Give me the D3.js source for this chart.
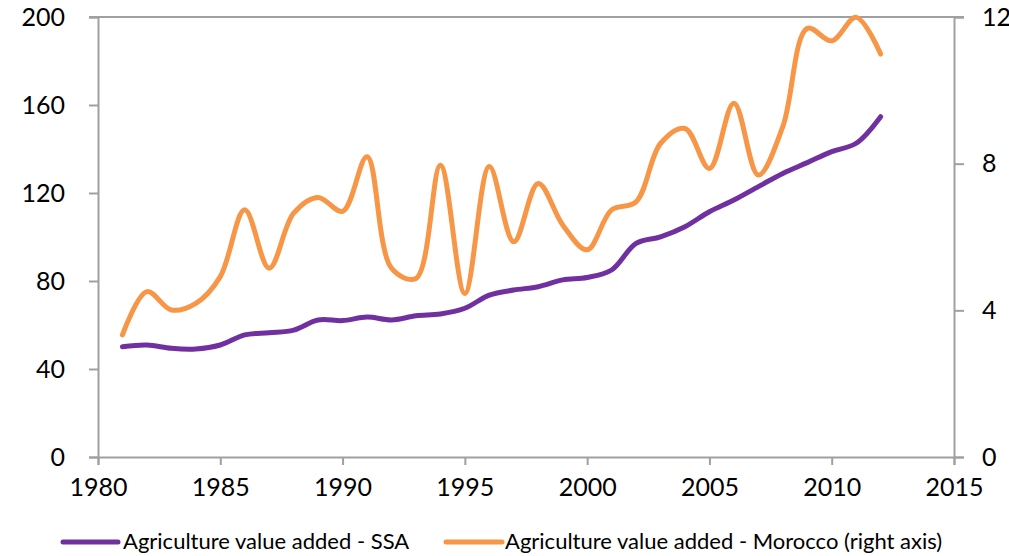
<!DOCTYPE html>
<html>
<head>
<meta charset="utf-8">
<script src="https://cdn.jsdelivr.net/npm/d3@7"></script>
<style>
html, body { margin: 0; padding: 0; background: #fff; }
svg { display: block; }
text { font-family: Lato, "Open Sans", sans-serif; fill: #000; }
</style>
</head>
<body>
<svg id="chart" width="1009" height="556"></svg>
<script>
// ---- Data ----
const years = [1981,1982,1983,1984,1985,1986,1987,1988,1989,1990,1991,1992,1993,1994,1995,1996,1997,1998,1999,2000,2001,2002,2003,2004,2005,2006,2007,2008,2009,2010,2011,2012];
const ssaValues = [50.1,50.9,49.4,49.1,50.9,55.5,56.5,57.7,62.3,62.0,63.6,62.3,64.2,65.0,67.6,73.6,75.9,77.4,80.5,81.6,85.0,97.1,100.1,104.7,111.5,116.8,122.9,128.9,133.8,138.8,142.6,154.7];
const moroccoValues = [3.33,4.51,4.01,4.19,4.92,6.74,5.15,6.65,7.08,6.70,8.19,5.15,4.87,7.96,4.46,7.92,5.87,7.46,6.33,5.65,6.74,6.96,8.55,8.96,7.87,9.65,7.69,9.01,11.69,11.35,11.99,10.99];
const xTicks = [1980,1985,1990,1995,2000,2005,2010,2015];
const leftTicks = [0,40,80,120,160,200];
const rightTicks = [0,4,8,12];
const seriesNames = ["Agriculture value added - SSA", "Agriculture value added - Morocco (right axis)"];
const seriesColors = ["#7030A0", "#F79646"];

// ---- Layout ----
const svg = d3.select("#chart");
const plot = { left: 98, right: 954, top: 17, bottom: 457 };
const axisColor = "#a0a0a0";
const fontSize = 25;

const x = d3.scaleLinear().domain([1980, 2015]).range([plot.left, plot.right]);
const yL = d3.scaleLinear().domain([0, 200]).range([plot.bottom, plot.top]);
const yR = d3.scaleLinear().domain([0, 12]).range([plot.bottom, plot.top]);

// top border line
svg.append("line")
  .attr("x1", plot.left - 9).attr("x2", plot.right + 10)
  .attr("y1", plot.top).attr("y2", plot.top)
  .attr("stroke", axisColor).attr("stroke-width", 2);

function styleAxis(g) {
  g.selectAll(".domain").attr("stroke", axisColor).attr("stroke-width", 2);
  g.selectAll(".tick line").attr("stroke", axisColor).attr("stroke-width", 2);
  g.selectAll(".tick text").attr("fill", "#000").style("font-size", fontSize + "px")
    .style("font-family", "Lato, 'Open Sans', sans-serif");
}

const gx = svg.append("g").attr("transform", `translate(0,${plot.bottom})`)
  .call(d3.axisBottom(x).tickValues(xTicks).tickFormat(d3.format("d")).tickSizeOuter(0).tickSize(8).tickPadding(13));
styleAxis(gx);

const gl = svg.append("g").attr("transform", `translate(${plot.left},0)`)
  .call(d3.axisLeft(yL).tickValues(leftTicks).tickSizeOuter(0).tickSize(9).tickPadding(24));
styleAxis(gl);

const gr = svg.append("g").attr("transform", `translate(${plot.right},0)`)
  .call(d3.axisRight(yR).tickValues(rightTicks).tickSizeOuter(0).tickSize(10).tickPadding(18));
styleAxis(gr);

// ---- Lines ----
const curve = d3.curveCatmullRom.alpha(0.5);
const lineL = d3.line().x((d, i) => x(years[i])).y(d => yL(d)).curve(curve);
const lineR = d3.line().x((d, i) => x(years[i])).y(d => yR(d)).curve(curve);

svg.append("path").datum(moroccoValues).attr("d", lineR)
  .attr("fill", "none").attr("stroke", seriesColors[1]).attr("stroke-width", 5)
  .attr("stroke-linecap", "round").attr("stroke-linejoin", "round");
svg.append("path").datum(ssaValues).attr("d", lineL)
  .attr("fill", "none").attr("stroke", seriesColors[0]).attr("stroke-width", 5)
  .attr("stroke-linecap", "round").attr("stroke-linejoin", "round");

// ---- Legend ----
const legendY = 542;
const legendItems = [
  { x1: 63, x2: 118, tx: 123 },
  { x1: 446, x2: 502, tx: 505 }
];
legendItems.forEach((it, i) => {
  svg.append("line").attr("x1", it.x1).attr("x2", it.x2).attr("y1", legendY).attr("y2", legendY)
    .attr("stroke", seriesColors[i]).attr("stroke-width", 5).attr("stroke-linecap", "round");
  svg.append("text").attr("x", it.tx).attr("y", legendY + 7)
    .style("font-size", "22px").text(seriesNames[i]);
});
</script>
</body>
</html>
